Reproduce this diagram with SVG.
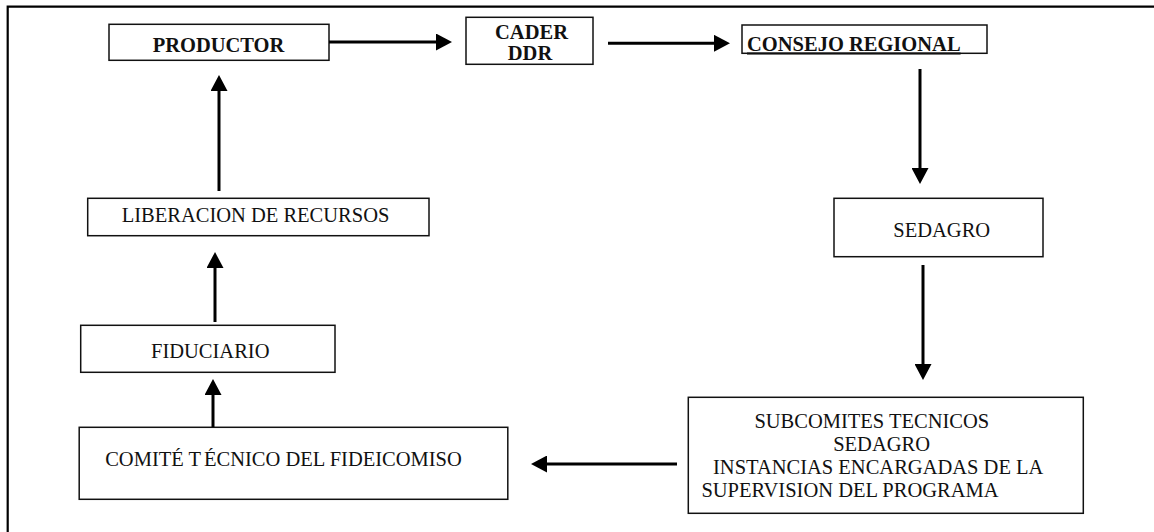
<svg xmlns="http://www.w3.org/2000/svg" width="1154" height="532" viewBox="0 0 1154 532">
<style>
.box{fill:#fff;stroke:#111;stroke-width:1.5}
.t{font-family:"Liberation Serif","Times New Roman",serif;font-size:20.5px;fill:#111}
.b{font-weight:bold}
.c{stroke:#000;stroke-width:3;fill:none;marker-end:url(#ah)}
.frame{stroke:#000;stroke-width:2.2;fill:none}
</style>
<defs>
<marker id="ah" markerUnits="userSpaceOnUse" markerWidth="16" markerHeight="17" refX="0" refY="8.5" orient="auto" viewBox="0 0 16 17">
<path d="M0,0 L16,8.5 L0,17 Z" fill="#000"/>
</marker>
</defs>
<rect width="1154" height="532" fill="#fff"/>
<g id="frame">
<path class="frame" d="M7.7,532 V6.7 H1154"/>
</g>
<g id="productor">
<rect class="box" x="109" y="24.3" width="220" height="36"/>
<text class="t b" x="218.5" y="52.3" text-anchor="middle">PRODUCTOR</text>
</g>
<g id="cader">
<rect class="box" x="466" y="17.3" width="127" height="47"/>
<text class="t b" x="531.5" y="39.3" text-anchor="middle">CADER</text>
<text class="t b" x="530" y="60" text-anchor="middle">DDR</text>
</g>
<g id="consejo">
<rect class="box" x="742" y="25" width="245" height="28.3"/>
<text class="t b" x="747" y="50.5" text-decoration="underline">CONSEJO REGIONAL</text>
</g>
<g id="sedagro">
<rect class="box" x="834" y="198.3" width="209" height="58.4"/>
<text class="t" x="893.3" y="237.3">SEDAGRO</text>
</g>
<g id="subcomites">
<rect class="box" x="688.3" y="397.3" width="395" height="116"/>
<text class="t" x="754.4" y="428.3">SUBCOMITES TECNICOS</text>
<text class="t" x="833.2" y="451">SEDAGRO</text>
<text class="t" x="713" y="473.5">INSTANCIAS ENCARGADAS DE LA</text>
<text class="t" x="701.4" y="496.7">SUPERVISION DEL PROGRAMA</text>
</g>
<g id="comite">
<rect class="box" x="79.2" y="427.3" width="428.6" height="72"/>
<text class="t" x="105.2" y="466">COMITÉ T<tspan dx="3">ÉCNICO DEL FIDEICOMISO</tspan></text>
</g>
<g id="fiduciario">
<rect class="box" x="80.7" y="325.3" width="254.3" height="47"/>
<text class="t" x="151" y="358.4">FIDUCIARIO</text>
</g>
<g id="liberacion">
<rect class="box" x="87.7" y="198.3" width="341.3" height="37.4"/>
<text class="t" x="121.7" y="222.3">LIBERACION DE RECURSOS</text>
</g>
<g id="connectors">
<line class="c" x1="329" y1="42" x2="436" y2="42"/>
<line class="c" x1="608" y1="43.3" x2="714" y2="43.3"/>
<line class="c" x1="920" y1="69" x2="920" y2="168"/>
<line class="c" x1="923" y1="265" x2="923" y2="364"/>
<line class="c" x1="677" y1="464" x2="547" y2="464"/>
<line class="c" x1="213" y1="427" x2="213" y2="395"/>
<line class="c" x1="215" y1="322" x2="215" y2="268"/>
<line class="c" x1="219" y1="191" x2="219" y2="91"/>
</g>
</svg>
